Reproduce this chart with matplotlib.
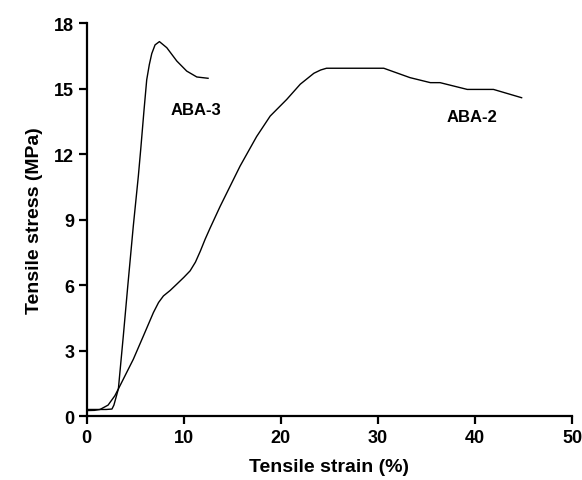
import matplotlib.pyplot as plt

# ABA-3 stress-strain curve
aba3_strain = [0.0, 1.0, 2.0, 2.6, 2.8, 3.26, 3.77, 4.23, 4.8, 5.32, 5.57,
               5.9, 6.18, 6.45, 6.7, 7.04, 7.49, 8.25, 9.28, 10.3, 11.34, 12.5]
aba3_stress = [0.3, 0.3, 0.3, 0.32, 0.5, 1.24, 3.67, 5.96, 8.71, 11.0, 12.25,
               14.0, 15.4, 16.1, 16.6, 17.0, 17.15, 16.87, 16.26, 15.8, 15.53, 15.47]

# ABA-2 stress-strain curve
aba2_strain = [0.0, 0.8, 1.37, 2.2, 2.9, 3.43, 4.8, 5.84, 6.87, 7.4, 7.9, 8.59,
               9.3, 10.0, 10.65, 11.2, 11.7, 12.2, 12.7, 13.74, 15.8, 17.5,
               18.9, 20.6, 22.0, 23.4, 24.1, 24.7, 30.6, 33.3, 35.4, 36.4,
               39.2, 41.9, 44.8]
aba2_stress = [0.25, 0.26, 0.3, 0.5, 0.93, 1.39, 2.6, 3.67, 4.74, 5.2, 5.5, 5.75,
               6.05, 6.35, 6.65, 7.05, 7.55, 8.1, 8.6, 9.6, 11.45, 12.8,
               13.74, 14.5, 15.2, 15.7, 15.85, 15.93, 15.93, 15.5, 15.27, 15.27,
               14.96, 14.96, 14.58]

plt.rcParams['font.family'] = ['Liberation Sans', 'DejaVu Sans']
plt.rcParams['font.weight'] = 'bold'

fig = plt.figure(figsize=(5.82, 4.81), dpi=100)
ax = fig.add_axes([0.149, 0.133, 0.834, 0.817])

ax.plot(aba3_strain, aba3_stress, color='black', lw=1.0)
ax.plot(aba2_strain, aba2_stress, color='black', lw=1.0)

ax.text(11.3, 14.05, 'ABA-3', fontsize=12, fontweight='bold',
        ha='center', va='center')
ax.text(39.7, 13.7, 'ABA-2', fontsize=12, fontweight='bold',
        ha='center', va='center')

ax.set_xlim(0, 50)
ax.set_ylim(0, 18)
ax.set_xticks([0, 10, 20, 30, 40, 50])
ax.set_yticks([0, 3, 6, 9, 12, 15, 18])
ax.spines['top'].set_visible(False)
ax.spines['right'].set_visible(False)
ax.spines['left'].set_linewidth(1.6)
ax.spines['bottom'].set_linewidth(1.6)
ax.tick_params(direction='out', length=6, width=1.6, labelsize=13, pad=3)
for lbl in ax.get_xticklabels() + ax.get_yticklabels():
    lbl.set_fontweight('bold')

ax.set_xlabel('Tensile strain (%)', fontsize=14, fontweight='bold', labelpad=9)
ax.set_ylabel('Tensile stress (MPa)', fontsize=14, fontweight='bold', labelpad=8)

plt.savefig('out.png', dpi=100)
